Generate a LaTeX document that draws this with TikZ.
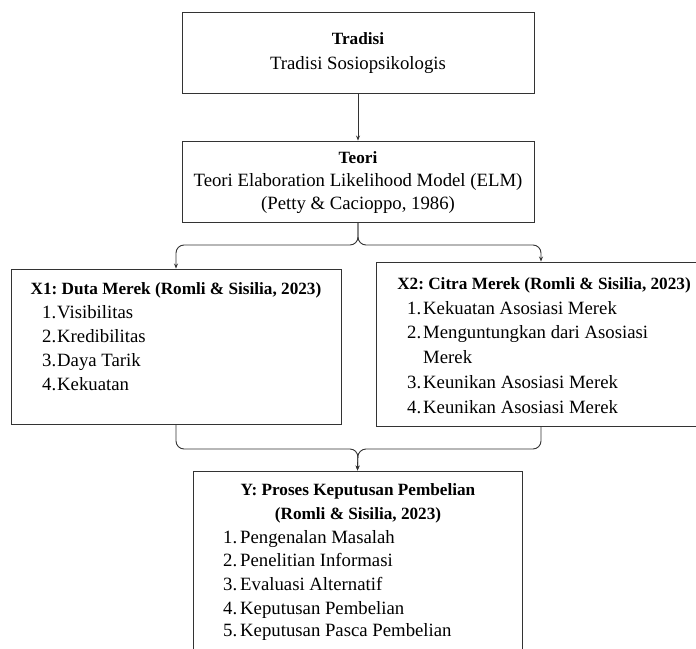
\documentclass[tikz,border=0pt]{standalone}
\usepackage{fontspec}
\setmainfont{Liberation Serif}
\usetikzlibrary{arrows.meta}
\frenchspacing
\tikzset{
  box/.style={draw=black!80, line width=0.9pt, rectangle, inner sep=0pt},
  conn/.style={draw=black!80, line width=0.9pt, rounded corners=8pt},
  arr/.style={-{Stealth[length=5pt,width=4pt]}},
  txt/.style={inner sep=0pt, anchor=base, font=\fontsize{18.75pt}{24pt}\selectfont},
  btxt/.style={txt, font=\fontsize{17.2pt}{24pt}\selectfont\bfseries},
  item/.style={txt, anchor=base west}
}
\newcommand{\numb}[2]{\makebox[#1][l]{#2}}
\begin{document}
\begin{tikzpicture}[x=1pt,y=-1pt]
\clip (0,0) rectangle (696,648);
% boxes
\node[box, minimum width=352pt, minimum height=81pt] (trad) at (358,52.5) {};
\node[box, minimum width=352pt, minimum height=81pt] (teori) at (358,181.5) {};
\node[box, minimum width=330pt, minimum height=155pt] (x1) at (176,346.5) {};
\node[box, minimum width=330pt, minimum height=164pt] (x2) at (541,344) {};
\node[box, minimum width=329pt, minimum height=184pt] (y) at (357.5,563) {};
% texts
\node[btxt] (t1) at (358,44) {Tradisi};
\node[txt] (t2) at (358,69) {Tradisi Sosiopsikologis};
\node[btxt] (e1) at (358,163) {Teori};
\node[txt] (e2) at (358,186) {Teori Elaboration Likelihood Model (ELM)};
\node[txt] (e3) at (358,209) {(Petty \& Cacioppo, 1986)};
\node[btxt] (a0) at (176,294) {X1: Duta Merek (Romli \& Sisilia, 2023)};
\node[item] (a1) at (42,318) {\numb{15pt}{1.}Visibilitas};
\node[item] (a2) at (42,342) {\numb{15pt}{2.}Kredibilitas};
\node[item] (a3) at (42,366) {\numb{15pt}{3.}Daya Tarik};
\node[item] (a4) at (42,390) {\numb{15pt}{4.}Kekuatan};
\node[btxt] (b0) at (544,289) {X2: Citra Merek (Romli \& Sisilia, 2023)};
\node[item] (b1) at (407,314) {\numb{16pt}{1.}Kekuatan Asosiasi Merek};
\node[item] (b2) at (407,338) {\numb{16pt}{2.}Menguntungkan dari Asosiasi};
\node[item] (b2b) at (423,363) {Merek};
\node[item] (b3) at (407,388) {\numb{16pt}{3.}Keunikan Asosiasi Merek};
\node[item] (b4) at (407,413) {\numb{16pt}{4.}Keunikan Asosiasi Merek};
\node[btxt] (c0) at (358,495) {Y: Proses Keputusan Pembelian};
\node[btxt] (c00) at (358,519) {(Romli \& Sisilia, 2023)};
\node[item] (c1) at (223,543) {\numb{17pt}{1.}Pengenalan Masalah};
\node[item] (c2) at (223,566) {\numb{17pt}{2.}Penelitian Informasi};
\node[item] (c3) at (223,590) {\numb{17pt}{3.}Evaluasi Alternatif};
\node[item] (c4) at (223,614) {\numb{17pt}{4.}Keputusan Pembelian};
\node[item] (c5) at (223,636) {\numb{17pt}{5.}Keputusan Pasca Pembelian};
% connectors
\coordinate (split) at (358,245);
\coordinate (join) at (358,449);
\draw[conn, arr] (trad.south) -- (teori.south |- teori.north);
\draw[conn, arr] (teori.south) -- (split) -| (x1.north);
\draw[conn, arr] (teori.south) -- (split) -| (x2.north);
\draw[conn, arr] (x1.south) |- (join) -- (y.north);
\draw[conn, arr] (x2.south) |- (join) -- (y.north);
\end{tikzpicture}
\end{document}
